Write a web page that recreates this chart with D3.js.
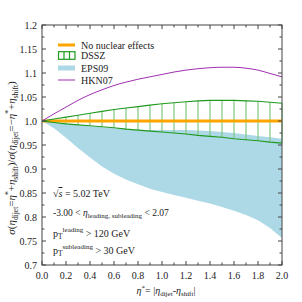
<!DOCTYPE html>
<html><head><meta charset="utf-8">
<script src="https://cdn.jsdelivr.net/npm/d3@7"></script>
<style>body{margin:0;background:#fff}svg{display:block}</style>
</head><body>
<script>
const etaStar = [0,0.1,0.2,0.3,0.4,0.5,0.6,0.7,0.8,0.9,1.0,1.1,1.2,1.3,1.4,1.5,1.6,1.7,1.8,1.9,2.0];
const noNuclear = etaStar.map(()=>1.0);
const dsszUpper = [1.0,1.004,1.008,1.012,1.016,1.020,1.024,1.027,1.030,1.033,1.036,1.038,1.040,1.042,1.043,1.043,1.043,1.042,1.041,1.039,1.037];
const dsszLower = [1.0,0.997,0.994,0.992,0.990,0.988,0.986,0.983,0.981,0.979,0.977,0.975,0.973,0.970,0.968,0.966,0.963,0.961,0.959,0.956,0.954];
const eps09Upper = [1.0,0.997,0.994,0.991,0.989,0.987,0.985,0.984,0.982,0.981,0.981,0.981,0.981,0.980,0.979,0.977,0.975,0.972,0.969,0.966,0.963];
const eps09Lower = [1.0,0.985,0.965,0.944,0.924,0.905,0.890,0.878,0.868,0.859,0.852,0.846,0.840,0.834,0.828,0.821,0.813,0.804,0.793,0.777,0.756];
const hkn07 = [1.0,1.015,1.029,1.043,1.055,1.065,1.074,1.081,1.087,1.092,1.097,1.102,1.106,1.109,1.111,1.112,1.112,1.110,1.106,1.099,1.092];
const xTicks = [0,0.2,0.4,0.6,0.8,1.0,1.2,1.4,1.6,1.8,2.0];
const yTicks = [0.7,0.75,0.8,0.85,0.9,0.95,1.0,1.05,1.1,1.15,1.2];
const legendLabels = ["No nuclear effects","DSSZ","EPS09","HKN07"];

const FONT = "'Liberation Serif','Times New Roman','DejaVu Serif',serif";
const W=302,H=302;
const svg=d3.select("body").append("svg").attr("width",W).attr("height",H)
  .attr("font-family",FONT);
const x=d3.scaleLinear().domain([0,2]).range([42,282]);
const y=d3.scaleLinear().domain([0.7,1.2]).range([265,25]);
const idx=d3.range(etaStar.length);
const TXT="#222";

// EPS09 band
svg.append("path").datum(idx)
  .attr("d",d3.area().x(i=>x(etaStar[i])).y0(i=>y(eps09Lower[i])).y1(i=>y(eps09Upper[i])))
  .attr("fill","#add8e6");

// DSSZ hatch verticals
svg.append("g").selectAll("line").data(idx.filter(i=>i>0)).join("line")
  .attr("x1",i=>x(etaStar[i])).attr("x2",i=>x(etaStar[i]))
  .attr("y1",i=>y(dsszUpper[i])).attr("y2",i=>y(dsszLower[i]))
  .attr("stroke","#80c880").attr("stroke-width",1.2);

// No nuclear effects
svg.append("path").datum(idx)
  .attr("d",d3.line().x(i=>x(etaStar[i])).y(i=>y(noNuclear[i])))
  .attr("fill","none").attr("stroke","#ffa500").attr("stroke-width",3);

// DSSZ edges
[dsszUpper,dsszLower].forEach(arr=>{
  svg.append("path").datum(idx)
    .attr("d",d3.line().x(i=>x(etaStar[i])).y(i=>y(arr[i])))
    .attr("fill","none").attr("stroke","#1f9a1f").attr("stroke-width",1.1);
});

// HKN07
svg.append("path").datum(idx)
  .attr("d",d3.line().curve(d3.curveMonotoneX).x(i=>x(etaStar[i])).y(i=>y(hkn07[i])))
  .attr("fill","none").attr("stroke","#a030b0").attr("stroke-width",1);

// Axes
const ax=svg.append("g").attr("stroke","#444").attr("stroke-width",1);
ax.append("rect").attr("x",42).attr("y",25).attr("width",240).attr("height",240).attr("fill","none");
const xMinor=d3.range(0,2.0001,0.1);
const yMinor=d3.range(0.7,1.2001,0.025);
xMinor.forEach((v,i)=>{
  const len = (i%2===0)?4:2.5;
  ax.append("line").attr("x1",x(v)).attr("x2",x(v)).attr("y1",265).attr("y2",265-len);
  ax.append("line").attr("x1",x(v)).attr("x2",x(v)).attr("y1",25).attr("y2",25+len);
});
yMinor.forEach((v,i)=>{
  const len = (i%2===0)?4:2.5;
  ax.append("line").attr("y1",y(v)).attr("y2",y(v)).attr("x1",42).attr("x2",42+len);
  ax.append("line").attr("y1",y(v)).attr("y2",y(v)).attr("x1",282).attr("x2",282-len);
});
svg.append("g").selectAll("text").data(xTicks).join("text")
  .attr("x",d=>x(d)).attr("y",279).attr("text-anchor","middle").attr("font-size",10).attr("fill",TXT)
  .text(d=>d.toFixed(1));
svg.append("g").selectAll("text").data(yTicks).join("text")
  .attr("x",37).attr("y",d=>y(d)+3.5).attr("text-anchor","end").attr("font-size",10).attr("fill",TXT)
  .text(d=>(Math.round(d*100)%10===0? d.toFixed(1): d.toFixed(2)));

// X label
const xl=svg.append("text").attr("x",166).attr("y",294).attr("text-anchor","middle").attr("font-size",10).attr("fill",TXT);
xl.append("tspan").attr("font-style","italic").text("η");
xl.append("tspan").attr("dy",-4).attr("font-size",7).text("*");
xl.append("tspan").attr("dy",4).text("= |");
xl.append("tspan").attr("font-style","italic").text("η");
xl.append("tspan").attr("dy",2).attr("font-size",7).text("dijet");
xl.append("tspan").attr("dy",-2).text("-");
xl.append("tspan").attr("font-style","italic").text("η");
xl.append("tspan").attr("dy",2).attr("font-size",7).text("shift");
xl.append("tspan").attr("dy",-2).text("|");

// Y label
const yl=svg.append("text").attr("transform","translate(15,158) rotate(-90)").attr("text-anchor","middle").attr("font-size",11).attr("fill",TXT);
function etaPart(t,sign){
  t.append("tspan").text("(");
  t.append("tspan").attr("font-style","italic").text("η");
  t.append("tspan").attr("dy",2.5).attr("font-size",7.5).text("dijet");
  t.append("tspan").attr("dy",-2.5).text("="+sign);
  t.append("tspan").attr("font-style","italic").text("η");
  t.append("tspan").attr("dy",-4.5).attr("font-size",7.5).text("*");
  t.append("tspan").attr("dy",4.5).text("+");
  t.append("tspan").attr("font-style","italic").text("η");
  t.append("tspan").attr("dy",2.5).attr("font-size",7.5).text("shift");
  t.append("tspan").attr("dy",-2.5).text(")");
}
yl.append("tspan").attr("font-style","italic").text("σ");
etaPart(yl,"");
yl.append("tspan").text("/");
yl.append("tspan").attr("font-style","italic").text("σ");
etaPart(yl,"−");

// Legend
const lg=svg.append("g");
const ly=[45,55.5,68,80];
lg.append("line").attr("x1",58).attr("x2",75).attr("y1",ly[0]).attr("y2",ly[0]).attr("stroke","#ffa500").attr("stroke-width",3);
lg.append("rect").attr("x",58.5).attr("y",ly[1]-3.8).attr("width",16.5).attr("height",7.6).attr("fill","none").attr("stroke","#1f9a1f").attr("stroke-width",1.2);
[64,69.5].forEach(v=>lg.append("line").attr("x1",v).attr("x2",v).attr("y1",ly[1]-3.8).attr("y2",ly[1]+3.8).attr("stroke","#1f9a1f").attr("stroke-width",1.2));
lg.append("rect").attr("x",58).attr("y",ly[2]-2.5).attr("width",17).attr("height",5).attr("fill","#add8e6");
lg.append("line").attr("x1",58).attr("x2",75).attr("y1",ly[3]).attr("y2",ly[3]).attr("stroke","#a030b0").attr("stroke-width",1);
lg.selectAll("text.l").data(legendLabels).join("text").attr("class","l")
  .attr("x",81).attr("y",(d,i)=>ly[i]+3.5).attr("font-size",10).attr("fill",TXT).text(d=>d);

// Annotations
const an=svg.append("g").attr("font-size",10).attr("fill",TXT);
const t1=an.append("text").attr("x",53).attr("y",197);
t1.append("tspan").text("√");
t1.append("tspan").attr("font-style","italic").attr("text-decoration","overline").text("s");
t1.append("tspan").text(" = 5.02 TeV");
const t2=an.append("text").attr("x",53).attr("y",216).attr("font-size",9.5);
t2.append("tspan").text("-3.00 < ");
t2.append("tspan").attr("font-style","italic").text("η");
t2.append("tspan").attr("dy",2).attr("font-size",7).text("leading, subleading");
t2.append("tspan").attr("dy",-2).text(" < 2.07");
const t3=an.append("text").attr("x",53).attr("y",237);
t3.append("tspan").text("p");
t3.append("tspan").attr("dy",2).attr("font-size",7.5).text("T");
t3.append("tspan").attr("dy",-7.5).attr("font-size",7).text("leading");
t3.append("tspan").attr("dy",5.5).text(" > 120 GeV");
const t4=an.append("text").attr("x",53).attr("y",254);
t4.append("tspan").text("p");
t4.append("tspan").attr("dy",2).attr("font-size",7.5).text("T");
t4.append("tspan").attr("dy",-7.5).attr("font-size",7).text("subleading");
t4.append("tspan").attr("dy",5.5).text(" > 30 GeV");
</script>
</body></html>
